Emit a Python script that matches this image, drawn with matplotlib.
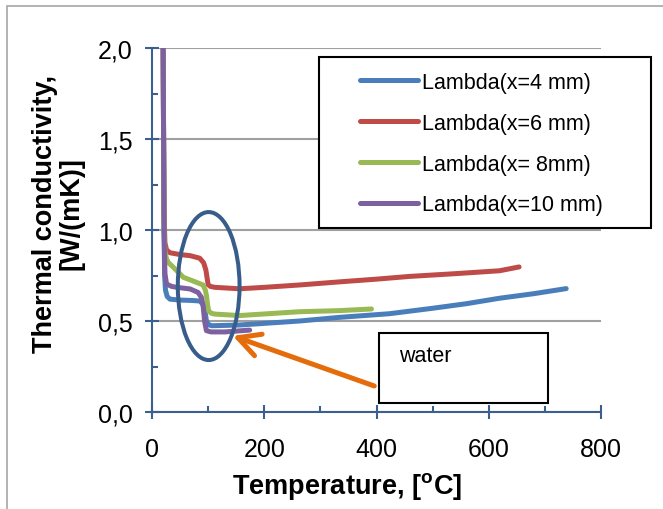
import matplotlib
matplotlib.use("Agg")
import matplotlib.pyplot as plt
from matplotlib.patches import Ellipse, Rectangle
from matplotlib.ticker import FixedLocator, MultipleLocator, FixedFormatter

plt.rcParams['font.family'] = ['Liberation Sans', 'DejaVu Sans']
plt.rcParams['mathtext.fontset'] = 'custom'
plt.rcParams['mathtext.rm'] = 'Liberation Sans'
plt.rcParams['mathtext.bf'] = 'Liberation Sans:bold'

# ---------------- data ----------------
series_names = ["Lambda(x=4 mm)", "Lambda(x=6 mm)", "Lambda(x= 8mm)", "Lambda(x=10 mm)"]

blue_T = [19, 20.5, 21.5, 22.5, 24, 27, 32, 50, 70, 85, 90, 94, 97, 101, 106, 120, 156, 200, 263, 334, 423, 500, 560, 619, 680, 738]
blue_L = [2.6, 1.6, 1.0, 0.75, 0.67, 0.635, 0.62, 0.615, 0.613, 0.61, 0.595, 0.566, 0.50, 0.48, 0.474, 0.475, 0.478, 0.487, 0.50, 0.52, 0.54, 0.57, 0.595, 0.625, 0.65, 0.678]

red_T = [19, 20.5, 21.5, 23, 26, 32, 50, 68, 85, 92, 96, 98, 100, 104, 112, 156, 200, 263, 334, 400, 459, 540, 619, 654]
red_L = [2.6, 1.6, 1.1, 0.93, 0.89, 0.875, 0.865, 0.859, 0.845, 0.82, 0.78, 0.74, 0.70, 0.69, 0.685, 0.677, 0.685, 0.698, 0.715, 0.73, 0.745, 0.76, 0.776, 0.797]

green_T = [19, 20.5, 21.5, 23, 26, 29, 38, 56, 73, 91, 95, 97, 99, 101, 106, 112, 156, 263, 334, 391]
green_L = [2.6, 1.6, 1.0, 0.88, 0.84, 0.822, 0.795, 0.74, 0.72, 0.698, 0.67, 0.64, 0.59, 0.555, 0.542, 0.538, 0.53, 0.551, 0.557, 0.566]

purple_T = [19, 20.5, 21.5, 23, 26, 35, 44, 68, 82, 88, 91, 94, 97, 105, 130, 174]
purple_L = [2.6, 1.6, 1.0, 0.76, 0.703, 0.69, 0.685, 0.676, 0.657, 0.63, 0.584, 0.493, 0.447, 0.44, 0.44, 0.45]

x_ticks = [0, 200, 400, 600, 800]
x_tick_labels = ["0", "200", "400", "600", "800"]
y_ticks = [0.0, 0.5, 1.0, 1.5, 2.0]
y_tick_labels = ["0,0", "0,5", "1,0", "1,5", "2,0"]

colors = ["#4A7EBB", "#BE4B48", "#98B954", "#7D60A0"]
axis_color = "#3D5F8E"

# ---------------- figure ----------------
W, H = 663, 510
fig = plt.figure(figsize=(W / 100, H / 100), dpi=100)
fig.patch.set_facecolor("white")

# outer chart frame (left/top visible)
fig.add_artist(Rectangle((7 / W, -0.1), 1.2, 1 - 7 / H + 0.1, transform=fig.transFigure,
                         fill=False, ec="#A6A6A6", lw=1.2))

ax = fig.add_axes([152 / W, (H - 413) / H, 449 / W, 364 / H])
ax.set_xlim(0, 800)
ax.set_ylim(0, 2.0)

for s in ["top", "right"]:
    ax.spines[s].set_visible(False)
for s in ["left", "bottom"]:
    ax.spines[s].set_color(axis_color)
    ax.spines[s].set_linewidth(1.5)

ax.xaxis.set_major_locator(FixedLocator(x_ticks))
ax.xaxis.set_major_formatter(FixedFormatter(x_tick_labels))
ax.xaxis.set_minor_locator(MultipleLocator(100))
ax.yaxis.set_major_locator(FixedLocator(y_ticks))
ax.yaxis.set_major_formatter(FixedFormatter(y_tick_labels))
ax.yaxis.set_minor_locator(MultipleLocator(0.25))

ax.tick_params(which="major", direction="inout", length=10, width=1.5, color=axis_color,
               labelsize=18, labelcolor="black")
ax.tick_params(axis="x", which="major", pad=13)
ax.tick_params(axis="y", which="major", pad=9)
ax.tick_params(which="minor", direction="in", length=4.3, width=1.5, color=axis_color)

ax.grid(axis="y", which="major", color="#A0A0A0", lw=1.5)
ax.set_axisbelow(True)

for T, L, c, n in zip([blue_T, red_T, green_T, purple_T], [blue_L, red_L, green_L, purple_L], colors, series_names):
    ax.plot(T, L, color=c, lw=3.6, label=n, solid_capstyle="round", solid_joinstyle="round", zorder=3)

# ellipse around the water plateau
ax.add_patch(Ellipse((101, 0.692), 110, 0.813, fill=False, ec="#385D8A", lw=2.9, zorder=4, clip_on=False))

# water box + arrow
ax.add_patch(Rectangle((403.6, 0.049), 302, 0.385, fc="white", ec="black", lw=1.5, zorder=4, clip_on=False))
ax.text(441, 0.308, "water", fontsize=15.5, va="center", ha="left", zorder=5)
ax.annotate("", xy=(144, 0.418), xytext=(396, 0.143),
            arrowprops=dict(arrowstyle="->,head_length=0.78,head_width=0.41", mutation_scale=20,
                            color="#E46C0A", lw=3.6, shrinkA=0, shrinkB=0),
            zorder=5, annotation_clip=False)

# legend frame + legend
ax.add_patch(Rectangle((319 / W, 1 - 229 / H), 332 / W, 171 / H, transform=fig.transFigure,
                       fc="white", ec="black", lw=1.5, zorder=6, clip_on=False))
leg = ax.legend(loc="upper left", bbox_to_anchor=(360 / W, 1 - 73 / H), bbox_transform=fig.transFigure,
                frameon=False, fontsize=15.5, handlelength=2.7, handletextpad=0.2, labelspacing=0.92,
                borderpad=0, borderaxespad=0)
leg.set_zorder(7)

# axis labels
fig.text(58 / W, 1 - 214 / H, "Thermal conductivity,\n[W/(mK)]", rotation=90, ha="center", va="center",
         multialignment="center", fontsize=19.5, fontweight="bold", linespacing=1.0)
fig.text(347 / W, 1 - 487 / H, r"Temperature, [$\mathbf{^{o}}$C]", ha="center", va="center",
         fontsize=19.5, fontweight="bold")

fig.savefig("out.png", dpi=100)
